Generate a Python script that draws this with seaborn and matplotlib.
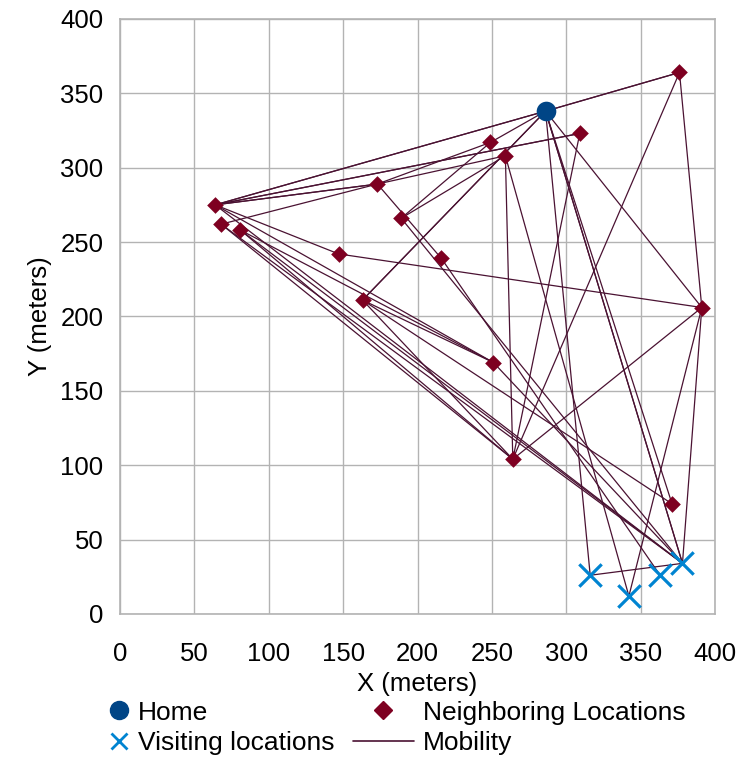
import numpy as np
import pandas as pd
import matplotlib
matplotlib.use("Agg")
import matplotlib.pyplot as plt
from matplotlib.lines import Line2D
import seaborn as sns

# ---------------- data ----------------
home_x = [286]
home_y = [338]

neighbor_names = ["N1", "N2", "N3", "N4", "N5", "N6", "N7", "N8",
                  "N9", "N10", "N11", "N12", "N13", "N14", "N15", "N16"]
neighbor_x = [376, 309, 249, 259, 173, 64, 189, 68, 81, 216, 147, 391, 163, 251, 264, 371]
neighbor_y = [364, 323, 317, 308, 289, 275, 266, 262, 258, 239, 242, 206, 211, 169, 104, 74]

visit_names = ["A", "B", "C", "D"]
visit_x = [316, 342, 363, 378]
visit_y = [26, 12, 26, 34]

# mobility segments (from -> to)
mob_from = ["N6", "N6", "H", "H", "N1", "N1", "N12", "N11", "N12", "N12",
            "N12", "H", "H", "H", "H", "H", "N4", "N4", "N6", "N6",
            "N2", "N6", "N6", "N8", "N5", "N5", "N7", "N3", "N7", "N13",
            "N13", "N5", "N10", "N6", "N9", "N13", "N14", "N13", "N13", "N8",
            "N9", "N6", "N8", "N9", "N7", "A"]
mob_to = ["H", "H", "N1", "N1", "N15", "N12", "N11", "N6", "D", "B",
          "N15", "N12", "A", "D", "D", "N16", "N15", "B", "N2", "N2",
          "N15", "N5", "N5", "N5", "N3", "N4", "N3", "H", "N4", "H",
          "H", "N10", "C", "N14", "N14", "N14", "D", "N15", "N16", "N15",
          "N15", "D", "D", "D", "D", "D"]

# ---------------- build lookup ----------------
coords = {"H": (home_x[0], home_y[0])}
for n, x, y in zip(neighbor_names, neighbor_x, neighbor_y):
    coords[n] = (x, y)
for n, x, y in zip(visit_names, visit_x, visit_y):
    coords[n] = (x, y)

rows = []
for i, (a, b) in enumerate(zip(mob_from, mob_to)):
    rows.append({"seg": i, "x": coords[a][0], "y": coords[a][1]})
    rows.append({"seg": i, "x": coords[b][0], "y": coords[b][1]})
seg_df = pd.DataFrame(rows)

# ---------------- style ----------------
sns.set_theme(style="whitegrid")
plt.rcParams["font.family"] = ["Liberation Sans", "DejaVu Sans"]
plt.rcParams["text.color"] = "black"

HOME_C = "#004586"
NEIGH_C = "#7e0021"
VISIT_C = "#0084d1"
LINE_C = "#4a1232"
GRID_C = "#b3b3b3"
FS = 18.5

fig = plt.figure(figsize=(7.45, 7.57), dpi=100)
ax = fig.add_axes([0.161, 0.189, 0.799, 0.786])

sns.lineplot(data=seg_df, x="x", y="y", units="seg", estimator=None, sort=False,
             color=LINE_C, linewidth=0.9, ax=ax, legend=False, zorder=2)

sns.scatterplot(x=neighbor_x, y=neighbor_y, marker="D", s=72, color=NEIGH_C,
                linewidth=0, ax=ax, zorder=4, legend=False)
sns.scatterplot(x=visit_x, y=visit_y, marker="x", s=260, color=VISIT_C,
                linewidth=2.3, ax=ax, zorder=4, legend=False)
sns.scatterplot(x=home_x, y=home_y, marker="o", s=200, color=HOME_C,
                linewidth=0, ax=ax, zorder=5, legend=False)

ax.set_xlim(0, 400)
ax.set_ylim(0, 400)
ax.set_xticks(np.arange(0, 401, 50))
ax.set_yticks(np.arange(0, 401, 50))
ax.grid(True, color=GRID_C, linewidth=1)
for sp in ax.spines.values():
    sp.set_color(GRID_C)
    sp.set_linewidth(1.2)
ax.tick_params(axis="both", which="major", length=8, width=1, color=GRID_C,
               direction="out", labelsize=FS, labelcolor="black", pad=4)
ax.tick_params(axis="x", pad=12.5)
ax.set_xlabel("X (meters)", fontsize=FS, color="black", labelpad=4)
ax.set_ylabel("Y (meters)", fontsize=FS, color="black", labelpad=6)
ax.set_facecolor("white")

# legend: two separate columns
h_col1 = [
    Line2D([], [], marker="o", ls="none", color=HOME_C, markersize=13),
    Line2D([], [], marker="x", ls="none", color=VISIT_C, markersize=12, markeredgewidth=2),
]
h_col2 = [
    Line2D([], [], marker="D", ls="none", color=NEIGH_C, markersize=9.5),
    Line2D([], [], color=LINE_C, linewidth=1.2),
]
LEG_FS = 19
leg1 = fig.legend(h_col1, ["Home", "Visiting locations"], loc="upper left",
                  bbox_to_anchor=(0.146, 0.0745), frameon=False, fontsize=LEG_FS,
                  handlelength=0.8, handletextpad=0.3, labelspacing=0.25,
                  borderpad=0, borderaxespad=0)
leg2 = fig.legend(h_col2, ["Neighboring Locations", "Mobility"], loc="upper left",
                  bbox_to_anchor=(0.474, 0.0745), frameon=False, fontsize=LEG_FS,
                  handlelength=2.3, handletextpad=0.35, labelspacing=0.25,
                  borderpad=0, borderaxespad=0)
for leg in (leg1, leg2):
    for t in leg.get_texts():
        t.set_color("black")

fig.savefig("out.png", dpi=100, facecolor="white")
